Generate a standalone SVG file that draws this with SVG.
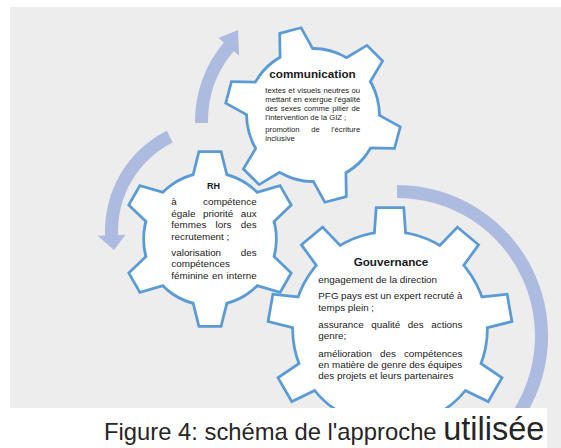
<svg xmlns="http://www.w3.org/2000/svg" xmlns:xlink="http://www.w3.org/1999/xlink" width="561" height="448" viewBox="0 0 561 448">
<style>
.bg{fill:#ededed}
.arrow{fill:#adbbe0}
.gs{fill:none;stroke:#5b9bd5;stroke-width:5.5;stroke-linejoin:miter}
.gf{fill:#ffffff;stroke:none}
text{font-family:"Liberation Sans",Arial,sans-serif;fill:#1a1a1a;font-kerning:none}
.t{font-size:11.7px;font-weight:bold}
.rh{font-size:9px;font-weight:bold}
.b{font-size:9.85px}
.s{font-size:7.7px}
.cap{font-size:23.8px;fill:#262626}
</style>
<defs>
  <g id="gear6">
    <circle r="65"/>
    <polygon points="-10,-86 10,-86 16.5,-60 -16.5,-60"/>
    <polygon points="-10,-86 10,-86 16.5,-60 -16.5,-60" transform="rotate(60)"/>
    <polygon points="-10,-86 10,-86 16.5,-60 -16.5,-60" transform="rotate(120)"/>
    <polygon points="-10,-86 10,-86 16.5,-60 -16.5,-60" transform="rotate(180)"/>
    <polygon points="-10,-86 10,-86 16.5,-60 -16.5,-60" transform="rotate(240)"/>
    <polygon points="-10,-86 10,-86 16.5,-60 -16.5,-60" transform="rotate(300)"/>
  </g>
  <g id="gear9">
    <circle r="96"/>
    <polygon points="-12.5,-120 12.5,-120 14.5,-92 -14.5,-92"/>
    <polygon points="-12.5,-120 12.5,-120 14.5,-92 -14.5,-92" transform="rotate(40)"/>
    <polygon points="-12.5,-120 12.5,-120 14.5,-92 -14.5,-92" transform="rotate(80)"/>
    <polygon points="-12.5,-120 12.5,-120 14.5,-92 -14.5,-92" transform="rotate(120)"/>
    <polygon points="-12.5,-120 12.5,-120 14.5,-92 -14.5,-92" transform="rotate(160)"/>
    <polygon points="-12.5,-120 12.5,-120 14.5,-92 -14.5,-92" transform="rotate(200)"/>
    <polygon points="-12.5,-120 12.5,-120 14.5,-92 -14.5,-92" transform="rotate(240)"/>
    <polygon points="-12.5,-120 12.5,-120 14.5,-92 -14.5,-92" transform="rotate(280)"/>
    <polygon points="-12.5,-120 12.5,-120 14.5,-92 -14.5,-92" transform="rotate(320)"/>
  </g>
</defs>

<rect x="0" y="0" width="561" height="448" fill="#ffffff"/>
<rect class="bg" x="10" y="7" width="551" height="441"/>

<g id="connectors">
  <path class="arrow" d="M195,123.1 A121,121 0 0 1 223.9,42.6 L218.5,38 L238,30 L239.1,55.5 L233.8,51 A108,108 0 0 0 208,122.9 Z"/>
  <path class="arrow" d="M166.8,130.8 A112,112 0 0 0 105.1,235.5 L97.6,235.8 L114,250 L125.6,234.7 L118.1,235 A99,99 0 0 1 172.7,142.5 Z"/>
  <path class="arrow" d="M397,185 A151,151 0 0 1 512.7,433.1 L502.7,424.7 A138,138 0 0 0 397,198 Z"/>
</g>

<g id="node-communication">
  <use xlink:href="#gear6" href="#gear6" class="gs" transform="translate(313,115) rotate(-15)"/>
  <use xlink:href="#gear6" href="#gear6" class="gf" transform="translate(313,115) rotate(-15)"/>
  <text class="t" x="312.5" y="78.3" text-anchor="middle">communication</text>
  <text class="s" x="265.3" y="93" word-spacing="0.42">textes et visuels neutres ou</text>
  <text class="s" x="265.3" y="102" word-spacing="0.22">mettant en exergue l'égalité</text>
  <text class="s" x="265.3" y="111" word-spacing="0.96">des sexes comme pilier de</text>
  <text class="s" x="265.3" y="120">l'intervention de la GIZ ;</text>
  <text class="s" x="265.3" y="132" word-spacing="9.53">promotion de l'écriture</text>
  <text class="s" x="265.3" y="141">inclusive</text>
</g>

<g id="node-rh">
  <use xlink:href="#gear6" href="#gear6" class="gs" transform="translate(210,239)"/>
  <use xlink:href="#gear6" href="#gear6" class="gf" transform="translate(210,239)"/>
  <text class="rh" x="213.5" y="188.5" text-anchor="middle">RH</text>
  <text class="b" x="171.3" y="205.3">à</text>
  <text class="b" x="256.7" y="205.3" text-anchor="end">compétence</text>
  <text class="b" x="171.3" y="216.7" word-spacing="4.93">égale priorité aux</text>
  <text class="b" x="171.3" y="228.1" word-spacing="6.58">femmes lors des</text>
  <text class="b" x="171.3" y="239.5">recrutement ;</text>
  <text class="b" x="171.3" y="256">valorisation</text>
  <text class="b" x="256.7" y="256" text-anchor="end">des</text>
  <text class="b" x="171.3" y="267.4">compétences</text>
  <text class="b" x="171.3" y="278.8" word-spacing="0.82">féminine en interne</text>
</g>

<g id="node-gouvernance">
  <use xlink:href="#gear9" href="#gear9" class="gs" transform="translate(390,329)"/>
  <use xlink:href="#gear9" href="#gear9" class="gf" transform="translate(390,329)"/>
  <text class="t" x="391" y="266" text-anchor="middle">Gouvernance</text>
  <text class="b" x="318.3" y="283.3">engagement de la direction</text>
  <text class="b" x="318.3" y="299.3" word-spacing="-0.15">PFG pays est un expert recruté à</text>
  <text class="b" x="318.3" y="310.8">temps plein ;</text>
  <text class="b" x="318.3" y="327.8" word-spacing="4.82">assurance qualité des actions</text>
  <text class="b" x="318.3" y="339.3">genre;</text>
  <text class="b" x="318.3" y="356.5" word-spacing="5.31">amélioration des compétences</text>
  <text class="b" x="318.3" y="367.8">en matière de genre des équipes</text>
  <text class="b" x="318.3" y="379.3">des projets et leurs partenaires</text>
</g>

<g id="caption">
  <rect x="0" y="408" width="547" height="40" fill="#ffffff"/>
  <text class="cap" x="104" y="440">Figure 4: schéma de l'approche <tspan font-size="32.5">utilisée</tspan></text>
</g>
</svg>
